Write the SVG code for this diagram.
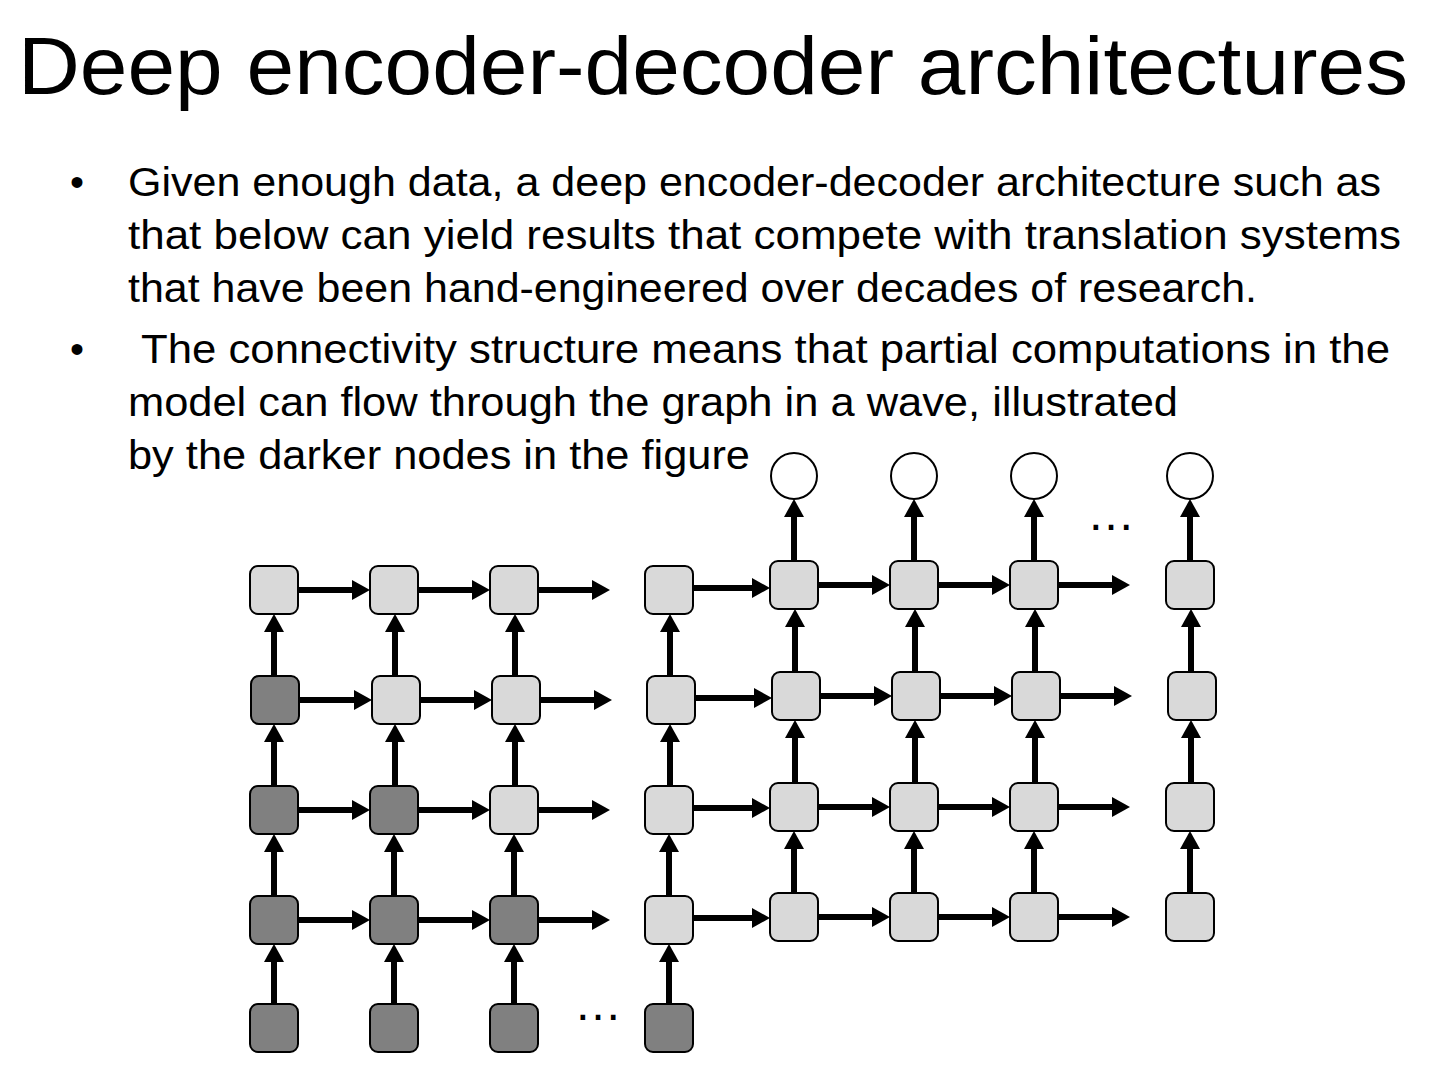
<svg xmlns="http://www.w3.org/2000/svg" width="1440" height="1080" viewBox="0 0 1440 1080">
<style>
.title{font-family:"Liberation Sans",Arial,sans-serif;font-size:82px;fill:#000}
.body{font-family:"Liberation Sans",Arial,sans-serif;font-size:40px;fill:#000}
.dots{font-family:"Liberation Sans",Arial,sans-serif;font-size:48px;fill:#000}
.lt{fill:#d9d9d9;stroke:#000;stroke-width:2}
.dk{fill:#808080;stroke:#000;stroke-width:2}
.out{fill:#fff;stroke:#000;stroke-width:2}
.ar{stroke:#000;stroke-width:6;fill:none;marker-end:url(#ah)}
</style>
<defs>
<marker id="ah" markerUnits="userSpaceOnUse" markerWidth="18" markerHeight="20" refX="8" refY="10" orient="auto" viewBox="0 0 18 20">
<path d="M0,0 L18,10 L0,20 z" fill="#000"/>
</marker>
</defs>
<rect width="1440" height="1080" fill="#fff"/>
<g id="title"><text class="title" x="18" y="94" textLength="1390" lengthAdjust="spacingAndGlyphs">Deep encoder-decoder architectures</text></g>
<g id="bullets">
<text class="body" x="70" y="196">•</text>
<text class="body" x="128" y="196" textLength="1253" lengthAdjust="spacingAndGlyphs">Given enough data, a deep encoder-decoder architecture such as</text>
<text class="body" x="128" y="249" textLength="1273" lengthAdjust="spacingAndGlyphs">that below can yield results that compete with translation systems</text>
<text class="body" x="128" y="302" textLength="1129" lengthAdjust="spacingAndGlyphs">that have been hand-engineered over decades of research.</text>
<text class="body" x="70" y="363">•</text>
<text class="body" x="141" y="363" textLength="1249" lengthAdjust="spacingAndGlyphs">The connectivity structure means that partial computations in the</text>
<text class="body" x="128" y="416" textLength="1050" lengthAdjust="spacingAndGlyphs">model can flow through the graph in a wave, illustrated</text>
<text class="body" x="128" y="469" textLength="622" lengthAdjust="spacingAndGlyphs">by the darker nodes in the figure</text>
</g>
<g id="connectors">
<!-- encoder horizontal -->
<line class="ar" x1="298" y1="590" x2="360" y2="590"/>
<line class="ar" x1="418" y1="590" x2="480" y2="590"/>
<line class="ar" x1="538" y1="590" x2="600" y2="590"/>
<line class="ar" x1="693" y1="588" x2="760" y2="588"/>
<line class="ar" x1="299" y1="700" x2="362" y2="700"/>
<line class="ar" x1="420" y1="700" x2="482" y2="700"/>
<line class="ar" x1="540" y1="700" x2="602" y2="700"/>
<line class="ar" x1="695" y1="698" x2="762" y2="698"/>
<line class="ar" x1="298" y1="810" x2="360" y2="810"/>
<line class="ar" x1="418" y1="810" x2="480" y2="810"/>
<line class="ar" x1="538" y1="810" x2="600" y2="810"/>
<line class="ar" x1="693" y1="808" x2="760" y2="808"/>
<line class="ar" x1="298" y1="920" x2="360" y2="920"/>
<line class="ar" x1="418" y1="920" x2="480" y2="920"/>
<line class="ar" x1="538" y1="920" x2="600" y2="920"/>
<line class="ar" x1="693" y1="918" x2="760" y2="918"/>
<!-- decoder horizontal -->
<line class="ar" x1="818" y1="585" x2="880" y2="585"/>
<line class="ar" x1="938" y1="585" x2="1000" y2="585"/>
<line class="ar" x1="1058" y1="585" x2="1120" y2="585"/>
<line class="ar" x1="820" y1="696" x2="882" y2="696"/>
<line class="ar" x1="940" y1="696" x2="1002" y2="696"/>
<line class="ar" x1="1060" y1="696" x2="1122" y2="696"/>
<line class="ar" x1="818" y1="807" x2="880" y2="807"/>
<line class="ar" x1="938" y1="807" x2="1000" y2="807"/>
<line class="ar" x1="1058" y1="807" x2="1120" y2="807"/>
<line class="ar" x1="818" y1="917" x2="880" y2="917"/>
<line class="ar" x1="938" y1="917" x2="1000" y2="917"/>
<line class="ar" x1="1058" y1="917" x2="1120" y2="917"/>
<!-- encoder vertical -->
<line class="ar" x1="274" y1="1004" x2="274" y2="954"/>
<line class="ar" x1="274" y1="896" x2="274" y2="844"/>
<line class="ar" x1="274" y1="786" x2="274" y2="734"/>
<line class="ar" x1="274" y1="676" x2="274" y2="624"/>
<line class="ar" x1="394" y1="1004" x2="394" y2="954"/>
<line class="ar" x1="394" y1="896" x2="394" y2="844"/>
<line class="ar" x1="395" y1="786" x2="395" y2="734"/>
<line class="ar" x1="395" y1="676" x2="395" y2="624"/>
<line class="ar" x1="514" y1="1004" x2="514" y2="954"/>
<line class="ar" x1="514" y1="896" x2="514" y2="844"/>
<line class="ar" x1="515" y1="786" x2="515" y2="734"/>
<line class="ar" x1="515" y1="676" x2="515" y2="624"/>
<line class="ar" x1="669" y1="1004" x2="669" y2="954"/>
<line class="ar" x1="669" y1="896" x2="669" y2="844"/>
<line class="ar" x1="670" y1="786" x2="670" y2="734"/>
<line class="ar" x1="670" y1="676" x2="670" y2="624"/>
<!-- decoder vertical -->
<line class="ar" x1="794" y1="893" x2="794" y2="841"/>
<line class="ar" x1="795" y1="783" x2="795" y2="730"/>
<line class="ar" x1="795" y1="672" x2="795" y2="619"/>
<line class="ar" x1="794" y1="561" x2="794" y2="509"/>
<line class="ar" x1="914" y1="893" x2="914" y2="841"/>
<line class="ar" x1="915" y1="783" x2="915" y2="730"/>
<line class="ar" x1="915" y1="672" x2="915" y2="619"/>
<line class="ar" x1="914" y1="561" x2="914" y2="509"/>
<line class="ar" x1="1034" y1="893" x2="1034" y2="841"/>
<line class="ar" x1="1035" y1="783" x2="1035" y2="730"/>
<line class="ar" x1="1035" y1="672" x2="1035" y2="619"/>
<line class="ar" x1="1034" y1="561" x2="1034" y2="509"/>
<line class="ar" x1="1190" y1="893" x2="1190" y2="841"/>
<line class="ar" x1="1191" y1="783" x2="1191" y2="730"/>
<line class="ar" x1="1191" y1="672" x2="1191" y2="619"/>
<line class="ar" x1="1190" y1="561" x2="1190" y2="509"/>
</g>
<g id="encoder">
<g id="e11"><rect class="lt" x="250" y="566" width="48" height="48" rx="8"/></g>
<g id="e12"><rect class="lt" x="370" y="566" width="48" height="48" rx="8"/></g>
<g id="e13"><rect class="lt" x="490" y="566" width="48" height="48" rx="8"/></g>
<g id="e14"><rect class="lt" x="645" y="566" width="48" height="48" rx="8"/></g>
<g id="e21"><rect class="dk" x="251" y="676" width="48" height="48" rx="8"/></g>
<g id="e22"><rect class="lt" x="372" y="676" width="48" height="48" rx="8"/></g>
<g id="e23"><rect class="lt" x="492" y="676" width="48" height="48" rx="8"/></g>
<g id="e24"><rect class="lt" x="647" y="676" width="48" height="48" rx="8"/></g>
<g id="e31"><rect class="dk" x="250" y="786" width="48" height="48" rx="8"/></g>
<g id="e32"><rect class="dk" x="370" y="786" width="48" height="48" rx="8"/></g>
<g id="e33"><rect class="lt" x="490" y="786" width="48" height="48" rx="8"/></g>
<g id="e34"><rect class="lt" x="645" y="786" width="48" height="48" rx="8"/></g>
<g id="e41"><rect class="dk" x="250" y="896" width="48" height="48" rx="8"/></g>
<g id="e42"><rect class="dk" x="370" y="896" width="48" height="48" rx="8"/></g>
<g id="e43"><rect class="dk" x="490" y="896" width="48" height="48" rx="8"/></g>
<g id="e44"><rect class="lt" x="645" y="896" width="48" height="48" rx="8"/></g>
<g id="e51"><rect class="dk" x="250" y="1004" width="48" height="48" rx="8"/></g>
<g id="e52"><rect class="dk" x="370" y="1004" width="48" height="48" rx="8"/></g>
<g id="e53"><rect class="dk" x="490" y="1004" width="48" height="48" rx="8"/></g>
<g id="e54"><rect class="dk" x="645" y="1004" width="48" height="48" rx="8"/></g>
<g id="edots"><text class="dots" x="598" y="1020" text-anchor="middle">…</text></g>
</g>
<g id="decoder">
<g id="d11"><rect class="lt" x="770" y="561" width="48" height="48" rx="8"/></g>
<g id="d12"><rect class="lt" x="890" y="561" width="48" height="48" rx="8"/></g>
<g id="d13"><rect class="lt" x="1010" y="561" width="48" height="48" rx="8"/></g>
<g id="d14"><rect class="lt" x="1166" y="561" width="48" height="48" rx="8"/></g>
<g id="d21"><rect class="lt" x="772" y="672" width="48" height="48" rx="8"/></g>
<g id="d22"><rect class="lt" x="892" y="672" width="48" height="48" rx="8"/></g>
<g id="d23"><rect class="lt" x="1012" y="672" width="48" height="48" rx="8"/></g>
<g id="d24"><rect class="lt" x="1168" y="672" width="48" height="48" rx="8"/></g>
<g id="d31"><rect class="lt" x="770" y="783" width="48" height="48" rx="8"/></g>
<g id="d32"><rect class="lt" x="890" y="783" width="48" height="48" rx="8"/></g>
<g id="d33"><rect class="lt" x="1010" y="783" width="48" height="48" rx="8"/></g>
<g id="d34"><rect class="lt" x="1166" y="783" width="48" height="48" rx="8"/></g>
<g id="d41"><rect class="lt" x="770" y="893" width="48" height="48" rx="8"/></g>
<g id="d42"><rect class="lt" x="890" y="893" width="48" height="48" rx="8"/></g>
<g id="d43"><rect class="lt" x="1010" y="893" width="48" height="48" rx="8"/></g>
<g id="d44"><rect class="lt" x="1166" y="893" width="48" height="48" rx="8"/></g>
<g id="o1"><circle class="out" cx="794" cy="476" r="23"/></g>
<g id="o2"><circle class="out" cx="914" cy="476" r="23"/></g>
<g id="o3"><circle class="out" cx="1034" cy="476" r="23"/></g>
<g id="o4"><circle class="out" cx="1190" cy="476" r="23"/></g>
<g id="ddots"><text class="dots" x="1111" y="530" text-anchor="middle">…</text></g>
</g>
</svg>
